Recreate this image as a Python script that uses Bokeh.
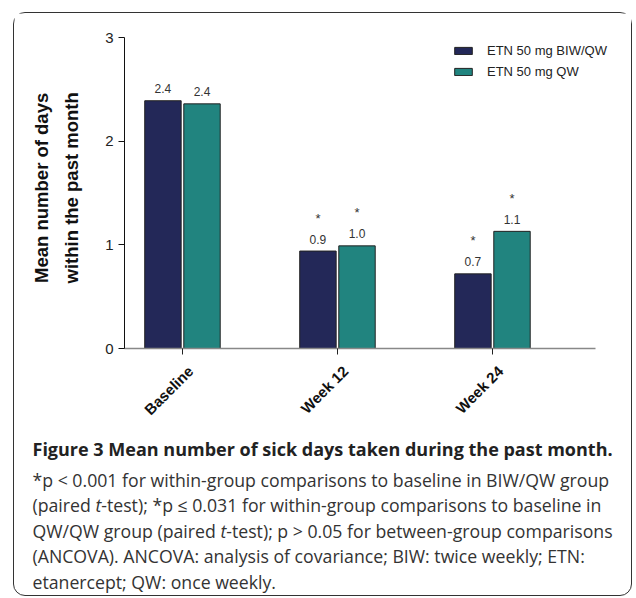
from bokeh.plotting import figure
from bokeh.models import ColumnDataSource, Range1d, FixedTicker, Legend, LegendItem, Div, LinearAxis
from bokeh.layouts import column
from bokeh.embed import file_html
from bokeh.resources import INLINE
from bokeh.core.properties import value
import math

categories = ["Baseline", "Week 12", "Week 24"]
series_names = ["ETN 50 mg BIW/QW", "ETN 50 mg QW"]
biw_qw = [2.39, 0.94, 0.72]
qw = [2.36, 0.99, 1.13]
sig_biw_qw = [False, True, True]
sig_qw = [False, True, True]
y_ticks = [0, 1, 2, 3]

navy = "#232858"
teal = "#21847f"
FONT = "Liberation Sans"

X0, X1 = -0.374, 2.665
p = figure(width=617, height=414, output_backend="svg", toolbar_location=None,
           x_range=Range1d(X0, X0 + 497 / 155), y_range=Range1d(0, 3),
           min_border_left=110, min_border_right=10, min_border_top=24, min_border_bottom=79)
p.outline_line_color = None
p.xgrid.visible = False
p.ygrid.visible = False

off = 0.126
bw = 0.235
idx = list(range(len(categories)))

def bar_source(vals, sig, sign):
    return ColumnDataSource(dict(
        x=[i + sign * off for i in idx],
        top=vals,
        lab=[f"{v:.1f}" for v in vals],
        star=["*" if s else "" for s in sig],
    ))

s1 = bar_source(biw_qw, sig_biw_qw, -1)
s2 = bar_source(qw, sig_qw, +1)

r1 = p.vbar(x="x", top="top", width=bw, source=s1, fill_color=navy, line_color="#222222", line_width=1)
r2 = p.vbar(x="x", top="top", width=bw, source=s2, fill_color=teal, line_color="#222222", line_width=1)

for s in (s1, s2):
    p.text(x="x", y="top", text="lab", source=s, text_align="center", text_baseline="alphabetic",
           y_offset=-12, text_font=value(FONT), text_font_size="12px", text_color="#333333")
    p.text(x="x", y="top", text="star", source=s, text_align="center", text_baseline="alphabetic",
           y_offset=-33, text_font=value(FONT), text_font_size="13px", text_color="#333333")

# x axis: line + tick marks
p.xaxis.bounds = (X0, X1)
p.xaxis.ticker = FixedTicker(ticks=idx)
p.xaxis.major_label_overrides = {i: "" for i in idx}
p.xaxis.major_label_text_font_size = "1px"
p.xaxis.major_label_standoff = 0
p.xaxis.axis_line_color = "#888888"
p.xaxis.axis_line_width = 1.5
p.xaxis.major_tick_line_color = "#222222"
p.xaxis.major_tick_in = 0
p.xaxis.major_tick_out = 6
p.xaxis.minor_tick_line_color = None

# second axis: category labels only
lab_axis = LinearAxis(ticker=FixedTicker(ticks=[i + 0.052 for i in idx]),
                      major_label_overrides={i + 0.052: c for i, c in zip(idx, categories)})
lab_axis.axis_line_color = None
lab_axis.major_tick_line_color = None
lab_axis.minor_tick_line_color = None
lab_axis.major_label_orientation = math.pi / 4
lab_axis.major_label_text_font = FONT
lab_axis.major_label_text_font_style = "bold"
lab_axis.major_label_text_font_size = "15px"
lab_axis.major_label_text_color = "#111111"
lab_axis.major_label_standoff = 8
p.add_layout(lab_axis, "below")

p.yaxis.ticker = FixedTicker(ticks=y_ticks)
p.yaxis.major_label_text_font = FONT
p.yaxis.major_label_text_font_size = "15px"
p.yaxis.major_label_text_color = "#222222"
p.yaxis.axis_line_color = "#111111"
p.yaxis.major_tick_line_color = "#111111"
p.yaxis.major_tick_in = 0
p.yaxis.major_tick_out = 6
p.yaxis.minor_tick_line_color = None
p.yaxis.major_label_standoff = 5
p.yaxis.axis_label = "\u00a0\u00a0Mean number of days\n\u00a0\u00a0within the past month"
p.yaxis.axis_label_text_font = FONT
p.yaxis.axis_label_text_font_style = "bold"
p.yaxis.axis_label_text_font_size = "18.5px"
p.yaxis.axis_label_text_line_height = 1.45
p.yaxis.axis_label_text_color = "#111111"
p.yaxis.axis_label_standoff = 20

legend = Legend(items=[LegendItem(label=series_names[0], renderers=[r1]),
                       LegendItem(label=series_names[1], renderers=[r2])],
                location=(328, 269), orientation="vertical",
                glyph_width=22, glyph_height=9, label_standoff=13, spacing=6,
                padding=0, margin=0, border_line_color=None, background_fill_alpha=0,
                label_text_font=FONT, label_text_font_size="13px", label_text_color="#222222")
p.add_layout(legend)

caption_html = (
    '<div style="font-family: \'Open Sans\'; color:#333; white-space:nowrap; padding-left:18.5px; padding-top:3px;">'
    '<div style="font-weight:bold; font-size:18px; line-height:38px; color:#222;">'
    'Figure 3 Mean number of sick days taken during the past month.</div>'
    '<div style="font-size:17.7px; line-height:25.4px;">'
    '*p &lt; 0.001 for within-group comparisons to baseline in BIW/QW group<br>'
    '(paired <i>t</i>-test); *p &le; 0.031 for within-group comparisons to baseline in<br>'
    'QW/QW group (paired <i>t</i>-test); p &gt; 0.05 for between-group comparisons<br>'
    '(ANCOVA). ANCOVA: analysis of covariance; BIW: twice weekly; ETN:<br>'
    'etanercept; QW: once weekly.'
    '</div></div>'
)
cap = Div(text=caption_html, width=617, height=168, margin=0)

layout = column(p, cap, margin=(12, 0, 0, 13),
                styles={"border": "1.5px solid #333", "border-radius": "12px"})

open("out.html", "w").write(file_html(layout, INLINE))
